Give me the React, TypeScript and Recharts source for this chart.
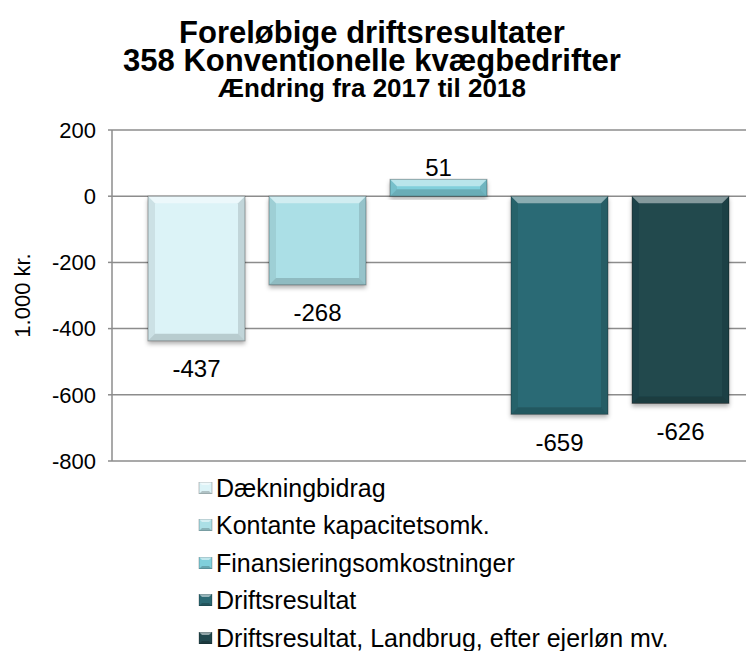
import { Bar, BarChart, CartesianGrid, LabelList, Legend, XAxis, YAxis } from "recharts";

// Ændring fra 2017 til 2018, 1.000 kr.
const seriesNames = [
  "Dækningbidrag",
  "Kontante kapacitetsomk.",
  "Finansieringsomkostninger",
  "Driftsresultat",
  "Driftsresultat, Landbrug, efter ejerløn mv.",
];
const seriesValues = [-437, -268, 51, -659, -626];
const seriesColors = ["#dcf3f7", "#abdfe6", "#80cfdb", "#2c6a74", "#22484e"];
const yTicks = [-800, -600, -400, -200, 0, 200];

const keys = seriesNames.map((_, i) => `s${i}`);
const data = [
  keys.reduce<Record<string, number | string>>(
    (row, k, i) => {
      row[k] = seriesValues[i];
      return row;
    },
    { group: "2018" }
  ),
];

const FONT = "'Liberation Sans', Arial, sans-serif";
const GRID = "#8c8c8c";

function BevelBar(props: any) {
  const { x, y, width, height, fill } = props;
  if (width == null || height == null) return null;
  const top = Math.min(y, y + height);
  const h = Math.abs(height);
  const w = width;
  const b = Math.min(7, h / 2, w / 2);
  return (
    <g filter="url(#barShadow)">
      <rect x={x} y={top} width={w} height={h} fill={fill} />
      <polygon
        points={`${x},${top} ${x + w},${top} ${x + w - b},${top + b} ${x + b},${top + b}`}
        fill="#fff"
        fillOpacity={0.45}
      />
      <polygon
        points={`${x},${top} ${x + b},${top + b} ${x + b},${top + h - b} ${x},${top + h}`}
        fill="#000"
        fillOpacity={0.07}
      />
      <polygon
        points={`${x + w},${top} ${x + w - b},${top + b} ${x + w - b},${top + h - b} ${x + w},${top + h}`}
        fill="#000"
        fillOpacity={0.12}
      />
      <polygon
        points={`${x},${top + h} ${x + b},${top + h - b} ${x + w - b},${top + h - b} ${x + w},${top + h}`}
        fill="#000"
        fillOpacity={0.16}
      />
      <rect x={x} y={top} width={w} height={h} fill="none" stroke="#000" strokeOpacity={0.3} />
    </g>
  );
}

function ValueLabel(props: any) {
  const { x, y, width, height, value } = props;
  const cx = x + width / 2;
  const neg = value < 0;
  const end = neg ? Math.max(y, y + height) : Math.min(y, y + height);
  return (
    <text
      x={cx}
      y={neg ? end + 28 : end - 12}
      textAnchor="middle"
      dominantBaseline="central"
      fontFamily={FONT}
      fontSize={24}
      fill="#000"
    >
      {value}
    </text>
  );
}

function LegendList({ payload }: any) {
  return (
    <div style={{ height: 190, fontFamily: FONT, fontSize: 25, lineHeight: "28px", color: "#000" }}>
      {(payload || []).map((p: any) => (
        <div key={p.value} style={{ height: 37.5, display: "flex", alignItems: "center", whiteSpace: "nowrap" }}>
          <svg width={17} height={12} style={{ marginRight: 1 }}>
            <rect x={1} y={0} width={13} height={12} fill={p.color} />
            <polygon points="1,0 14,0 11,3 4,3" fill="#fff" fillOpacity={0.5} />
            <polygon points="1,12 4,9 11,9 14,12" fill="#000" fillOpacity={0.2} />
            <rect x={1} y={0} width={13} height={12} fill="none" stroke="#000" strokeOpacity={0.3} strokeWidth={0.8} />
          </svg>
          <span>{p.value}</span>
        </div>
      ))}
    </div>
  );
}

const titleLine = (text: string, top: number, size: number, lh: number) => (
  <div
    style={{
      position: "absolute",
      left: 0,
      width: 728,
      top,
      height: lh,
      textAlign: "center",
      fontFamily: FONT,
      fontWeight: "bold",
      fontSize: size,
      lineHeight: `${lh}px`,
      color: "#000",
      whiteSpace: "nowrap",
    }}
  >
    {text}
  </div>
);

export default function App() {
  return (
    <div style={{ position: "relative", width: 746, height: 643, overflow: "hidden", background: "#fff" }}>
      <BarChart
        width={770}
        height={643}
        data={data}
        margin={{ top: 122, right: 13, left: 0, bottom: 0 }}
        barGap={24}
        barCategoryGap={36}
        style={{ position: "absolute", left: 0, top: 0 }}
      >
        <defs>
          <filter id="barShadow" x="-10%" y="-10%" width="120%" height="130%">
            <feDropShadow dx={0} dy={3} stdDeviation={2} floodColor="#000" floodOpacity={0.3} />
          </filter>
        </defs>
        <CartesianGrid vertical={false} stroke={GRID} strokeWidth={1.5} />
        <XAxis dataKey="group" hide />
        <YAxis
          width={104}
          domain={[-800, 200]}
          ticks={yTicks}
          interval={0}
          stroke={GRID}
          strokeWidth={1.5}
          tickSize={4}
          tickMargin={12}
          tick={{ fill: "#000", fontSize: 22, fontFamily: FONT }}
          label={{
            value: "1.000 kr.",
            angle: -90,
            position: "insideLeft",
            offset: 14,
            style: { textAnchor: "middle", fill: "#000", fontSize: 22, fontFamily: FONT },
          }}
        />
        <Legend
          layout="vertical"
          verticalAlign="bottom"
          align="center"
          itemSorter="dataKey"
          content={<LegendList />}
          wrapperStyle={{ left: 190, top: 461, width: "auto" }}
        />
        {keys.map((k, i) => (
          <Bar
            key={k}
            dataKey={k}
            name={seriesNames[i]}
            fill={seriesColors[i]}
            barSize={97}
            shape={<BevelBar />}
            isAnimationActive={false}
          >
            <LabelList dataKey={k} content={<ValueLabel />} />
          </Bar>
        ))}
      </BarChart>
      {titleLine("Foreløbige driftsresultater", 11, 31, 28)}
      {titleLine("358 Konventionelle kvægbedrifter", 39, 31, 28)}
      {titleLine("Ændring fra 2017 til 2018", 67, 26, 26)}
    </div>
  );
}
